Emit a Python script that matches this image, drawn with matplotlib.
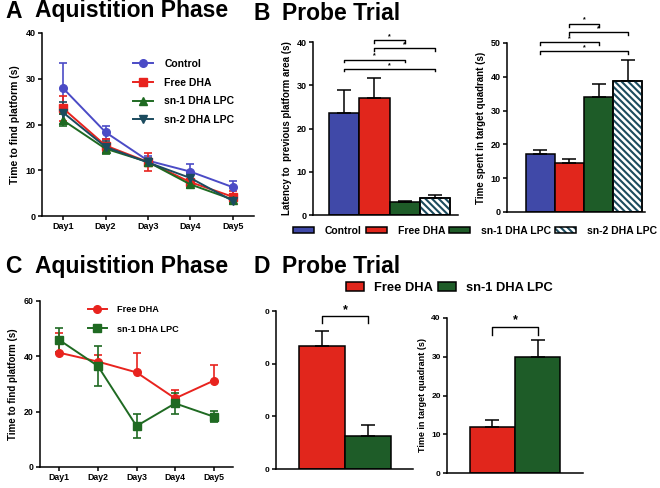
import matplotlib
matplotlib.use("Agg")
import matplotlib.pyplot as plt
from matplotlib.patches import Patch
from matplotlib.lines import Line2D

plt.rcParams['font.family'] = ['Liberation Sans', 'DejaVu Sans']
plt.rcParams['font.weight'] = 'bold'
plt.rcParams['axes.labelweight'] = 'bold'
plt.rcParams['hatch.linewidth'] = 1.5

# ===== DATA =====
days = ['Day1', 'Day2', 'Day3', 'Day4', 'Day5']
groups = ['Control', 'Free DHA', 'sn-1 DHA LPC', 'sn-2 DHA LPC']

# A - acquisition phase (4 groups)
acq_control = [27.9, 18.3, 12.1, 9.7, 6.3]
acq_control_err = [5.6, 1.4, 1.0, 1.6, 1.4]
acq_free = [23.5, 15.4, 11.8, 7.4, 4.2]
acq_free_err = [2.8, 1.5, 2.0, 1.3, 1.2]
acq_sn1 = [20.9, 14.7, 11.8, 6.9, 3.6]
acq_sn1_err = [1.3, 1.2, 0.8, 0.8, 0.8]
acq_sn2 = [22.6, 15.1, 11.7, 8.3, 3.3]
acq_sn2_err = [2.4, 1.3, 0.8, 1.0, 0.7]

# B - probe trial
latency = [23.6, 27.1, 2.9, 3.85]
latency_err = [5.4, 4.5, 0.3, 0.8]
quadrant = [17.1, 14.5, 34.1, 38.7]
quadrant_err = [1.3, 1.1, 3.8, 6.2]
latency_sig = [(1, 2, 40.4), (1, 3, 38.5), (0, 2, 35.9), (0, 3, 33.8)]
quadrant_sig = [(1, 2, 55.7), (1, 3, 53.3), (0, 2, 50.3), (0, 3, 47.7)]

# C - acquisition phase (2 groups)
acq2_free = [41.3, 38.1, 34.2, 24.8, 31.2]
acq2_free_err = [7.3, 2.4, 7.1, 3.0, 5.8]
acq2_sn1 = [45.9, 36.5, 14.8, 23.0, 18.2]
acq2_sn1_err = [4.2, 7.4, 4.3, 3.9, 1.9]

# D - probe trial (2 groups)
probe2_latency = [46.7, 12.5]
probe2_latency_err = [5.7, 4.2]
probe2_latency_ticks = [0, 20, 40, 60]
probe2_latency_ticklabels = ['0', '0', '0', '0']
probe2_quadrant = [12.0, 30.0]
probe2_quadrant_err = [1.7, 4.3]

# ===== STYLE =====
c_blue = '#4049a8'
c_red = '#e1261c'
c_green = '#1e5c28'
c_teal = '#1b4b5e'
line_blue = '#4b4bc6'
line_red = '#e8231e'
line_green = '#1f6a22'
hatch = '\\\\\\\\\\'
bar_colors = [c_blue, c_red, c_green, 'white']

W, H = 660, 488
fig = plt.figure(figsize=(W / 100, H / 100), dpi=100)


def px_axes(l, t, r, b):
    return fig.add_axes([l / W, 1 - b / H, (r - l) / W, (b - t) / H])


def style(ax, labelsize=6.5):
    for s in ['top', 'right']:
        ax.spines[s].set_visible(False)
    for s in ['left', 'bottom']:
        ax.spines[s].set_linewidth(1.1)
    ax.tick_params(width=1.1, length=3, labelsize=labelsize, pad=1.5)


def bracket(ax, x1, x2, y, h, size):
    ax.plot([x1, x1, x2, x2], [y - h, y, y, y - h], color='k', lw=1.0,
            clip_on=False)
    ax.text((x1 + x2) / 2, y, '*', ha='center', va='bottom', fontsize=size)


def bars(ax, vals, errs, colors, capsize):
    xs = list(range(len(vals)))
    zeros = [0] * len(vals)
    ax.bar(xs, vals, width=1, color=colors, edgecolor='k', linewidth=1.1,
           yerr=[zeros, errs], capsize=capsize,
           error_kw=dict(elinewidth=1.1, capthick=1.1, ecolor='k'), zorder=2)
    return xs


def line_handle(col, mk):
    return Line2D([], [], color=col, marker=mk, ms=5.5, lw=1.4)


# ===== A =====
axA = px_axes(42, 33, 254, 216)
x = range(len(days))
seriesA = [(acq_control, acq_control_err, line_blue, 'o'),
           (acq_free, acq_free_err, line_red, 's'),
           (acq_sn1, acq_sn1_err, line_green, '^'),
           (acq_sn2, acq_sn2_err, c_teal, 'v')]
for vals, errs, col, mk in seriesA:
    axA.errorbar(x, vals, yerr=errs, color=col, marker=mk, ms=5.5, lw=1.4,
                 capsize=2.9, capthick=1.2, elinewidth=1.2)
axA.set_xlim(-0.5, 4.5)
axA.set_ylim(0, 40)
axA.set_yticks([0, 10, 20, 30, 40])
axA.set_xticks(list(x))
axA.set_xticklabels(days)
axA.set_ylabel('Time to find platform (s)', fontsize=7.5, labelpad=4)
style(axA)
axA.legend([line_handle(s[2], s[3]) for s in seriesA], groups,
           loc='center left', bbox_to_anchor=(133 / W, 1 - 92 / H),
           bbox_transform=fig.transFigure, frameon=False, fontsize=7.5,
           handlelength=1.9, handletextpad=1.1, labelspacing=0.84,
           borderpad=0, borderaxespad=0, numpoints=1)

# ===== B left =====
axB1 = px_axes(313, 42, 458, 215)
xs = bars(axB1, latency, latency_err, bar_colors, 4.7)
axB1.bar(xs[3], latency[3], width=1, fill=False, hatch=hatch,
         edgecolor=c_teal, linewidth=0, zorder=2.1)
axB1.bar(xs[3], latency[3], width=1, fill=False, edgecolor='k',
         linewidth=1.1, zorder=2.2)
axB1.set_xlim(-1.03, 3.76)
axB1.set_ylim(0, 40)
axB1.set_yticks([0, 10, 20, 30, 40])
axB1.set_xticks([])
axB1.set_ylabel('Latency to  previous platform area (s)', fontsize=7,
                labelpad=3)
style(axB1)
for i, j, y in latency_sig:
    bracket(axB1, i, j, y, 0.6, 5)

# ===== B right =====
axB2 = px_axes(507, 43, 645, 212)
xs = bars(axB2, quadrant, quadrant_err, bar_colors, 4.7)
axB2.bar(xs[3], quadrant[3], width=1, fill=False, hatch=hatch,
         edgecolor=c_teal, linewidth=0, zorder=2.1)
axB2.bar(xs[3], quadrant[3], width=1, fill=False, edgecolor='k',
         linewidth=1.1, zorder=2.2)
axB2.set_xlim(-1.15, 3.6)
axB2.set_ylim(0, 50)
axB2.set_yticks([0, 10, 20, 30, 40, 50])
axB2.set_xticks([])
axB2.set_ylabel('Time spent in target quadrant (s)', fontsize=7, labelpad=3)
style(axB2)
for i, j, y in quadrant_sig:
    bracket(axB2, i, j, y, 1.0, 5)

handles = [Patch(facecolor=c, edgecolor='k', linewidth=1.1)
           for c in bar_colors[:3]]
handles.append((Patch(facecolor='white', edgecolor=c_teal, hatch=hatch,
                      linewidth=0),
                Patch(fill=False, edgecolor='k', linewidth=1.1)))
fig.legend(handles, groups, loc='center', ncol=4,
           bbox_to_anchor=(475 / W, 1 - 231 / H), frameon=False,
           fontsize=7.5, handlelength=2.0, handleheight=0.48,
           handletextpad=1.05, columnspacing=0.38, borderpad=0)

# ===== C =====
axC = px_axes(40, 301, 233, 467)
axC.errorbar(x, acq2_free, yerr=[[0] * 5, acq2_free_err], color=line_red,
             marker='o', ms=5.5, lw=1.4, capsize=3.2, capthick=1.2,
             elinewidth=1.2)
axC.errorbar(x, acq2_sn1, yerr=acq2_sn1_err, color=line_green, marker='s',
             ms=5.5, lw=1.4, capsize=3.2, capthick=1.2, elinewidth=1.2)
axC.set_xlim(-0.5, 4.5)
axC.set_ylim(0, 60)
axC.set_yticks([0, 20, 40, 60])
axC.set_xticks(list(x))
axC.set_xticklabels(days)
axC.set_ylabel('Time to find platform (s)', fontsize=7, labelpad=4)
style(axC, 6.3)
axC.legend([line_handle(line_red, 'o'), line_handle(line_green, 's')],
           groups[1:3], loc='center left',
           bbox_to_anchor=(88 / W, 1 - 319.5 / H),
           bbox_transform=fig.transFigure, frameon=False, fontsize=6.6,
           handlelength=2.07, handletextpad=1.09, labelspacing=1.1,
           borderpad=0, borderaxespad=0, numpoints=1)

# ===== D left =====
axD1 = px_axes(276, 311, 413, 469)
bars(axD1, probe2_latency, probe2_latency_err, [c_red, c_green], 5)
axD1.set_xlim(-1.0, 1.98)
axD1.set_ylim(0, 60)
axD1.set_yticks(probe2_latency_ticks)
axD1.set_yticklabels(probe2_latency_ticklabels)
axD1.set_xticks([])
style(axD1, 6)
bracket(axD1, 0, 1, 58.1, 2.8, 9)

# ===== D right =====
axD2 = px_axes(447, 318, 583, 473)
bars(axD2, probe2_quadrant, probe2_quadrant_err, [c_red, c_green], 5)
axD2.set_xlim(-1.0, 2.0)
axD2.set_ylim(0, 40)
axD2.set_yticks([0, 10, 20, 30, 40])
axD2.set_xticks([])
axD2.set_ylabel('Time in target quadrant (s)', fontsize=6.5, labelpad=3)
style(axD2, 6)
bracket(axD2, 0, 1, 37.8, 2.2, 9)

handlesD = [Patch(facecolor=c, edgecolor='k', linewidth=1.1)
            for c in [c_red, c_green]]
fig.legend(handlesD, groups[1:3], loc='center', ncol=2,
           bbox_to_anchor=(449 / W, 1 - 288 / H), frameon=False,
           fontsize=9.3, handlelength=1.4, handleheight=0.7,
           handletextpad=0.78, columnspacing=0.39, borderpad=0)

# ===== TITLES =====
for letter, title, xl, xt, yb in [('A', 'Aquistition Phase', 5, 35, 17.5),
                                  ('B', 'Probe Trial', 253, 282, 20.5),
                                  ('C', 'Aquistition Phase', 5, 35, 273),
                                  ('D', 'Probe Trial', 253, 282, 273)]:
    fig.text(xl / W, 1 - yb / H, letter, fontsize=16.5, va='baseline')
    fig.text(xt / W, 1 - yb / H, title, fontsize=16.5, va='baseline')

plt.savefig('out.png', dpi=100)
plt.close()
